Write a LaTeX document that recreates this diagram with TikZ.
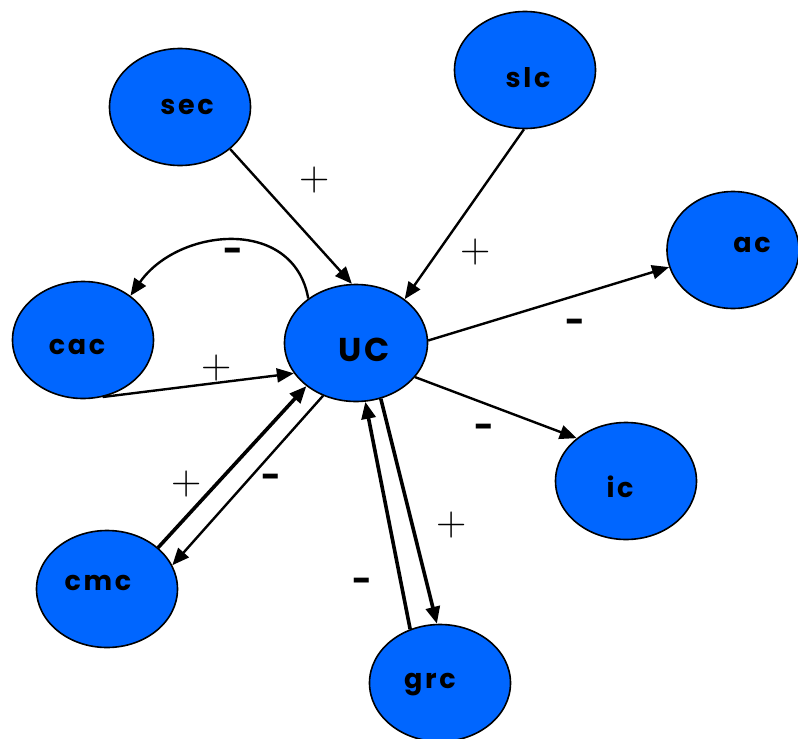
\documentclass[tikz,border=0pt]{standalone}
\usepackage{fontspec}
\newfontfamily\labfont[LetterSpace=10]{Poppins}
\newfontfamily\signfont{Poppins}
\usetikzlibrary{shapes.geometric,arrows.meta}
\definecolor{cellblue}{HTML}{0066FF}
\begin{document}
\begin{tikzpicture}[x=1pt,y=-1pt,
  cell/.style={ellipse,draw=black,line width=1.6pt,fill=cellblue,
    minimum width=141pt,minimum height=117pt,inner sep=0pt},
  celltext/.style={font=\labfont\bfseries\fontsize{27}{30}\selectfont,inner sep=0pt},
  bigtext/.style={font=\labfont\bfseries\fontsize{33}{36}\selectfont,inner sep=0pt},
  plus/.style={font=\fontsize{42}{46}\selectfont,inner sep=0pt},
  minus/.style={font=\signfont\bfseries\fontsize{34}{40}\selectfont,inner sep=0pt},
  link/.style={line width=2.4pt,-{Triangle[length=17pt,width=14pt]}},
  heavy/.style={link,line width=3.6pt}
]
\useasboundingbox (0,0) rectangle (798,739);

% cells
\node[cell] (sec) at (180,107) {};
\node[cell] (slc) at (525,70) {};
\node[cell,minimum width=132pt] (ac) at (733,250) {};
\node[cell] (cac) at (83,340) {};
\node[cell,minimum width=143pt] (UC) at (356,343) {};
\node[cell] (ic) at (626,481) {};
\node[cell] (cmc) at (107,589) {};
\node[cell] (grc) at (440,683) {};

% cell names
\node[celltext] (sec-t) at (187,107) {sec};
\node[celltext] (slc-t) at (528,78) {slc};
\node[celltext] (ac-t) at (752,245) {ac};
\node[celltext] (cac-t) at (77,347) {cac};
\node[bigtext] (UC-t) at (364,350) {UC};
\node[celltext] (ic-t) at (620,487) {ic};
\node[celltext] (cmc-t) at (98,583) {cmc};
\node[celltext] (grc-t) at (430,685) {grc};

% interactions
\draw[link] (sec.-40) -- (UC.94);
\draw[link] (slc.-91) -- (UC.42);
\draw[link] (UC.137) to[out=100,in=55,looseness=1.2] (cac.43);
\draw[link] (cac.-71) -- (UC.206);
\draw[link] (UC.2) -- (ac.195);
\draw[link] (UC.-30) -- (ic.139);
\draw[heavy] (cmc.39) -- (UC.221);
\draw[link] (UC.238) -- (cmc.20);
\draw[heavy] (grc.119) -- (UC.-81);
\draw[heavy] (UC.-66) -- (grc.93);

% signs
\node[plus] (p1) at (315,180) {+};
\node[plus] (p2) at (476,252) {+};
\node[minus] (m1) at (233,255) {-};
\node[plus] (p3) at (217,368) {+};
\node[minus] (m2) at (575,326) {-};
\node[minus] (m3) at (484,431) {-};
\node[plus] (p4) at (187,484) {+};
\node[minus] (m4) at (271,481) {-};
\node[minus] (m5) at (362,585) {-};
\node[plus] (p5) at (452,525) {+};
\end{tikzpicture}
\end{document}
